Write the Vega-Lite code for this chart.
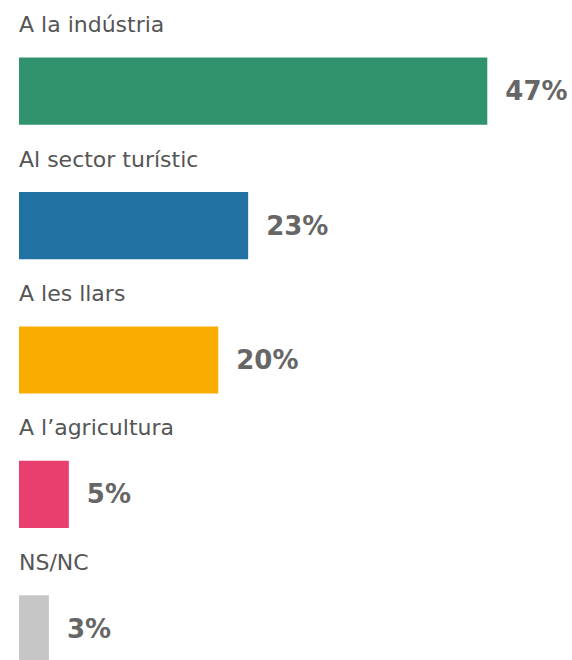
{
  "$schema": "https://vega.github.io/schema/vega-lite/v6.json",
  "width": 553,
  "height": 672,
  "autosize": "none",
  "padding": {"left": 19, "top": 24, "right": 0, "bottom": 0},
  "background": "white",
  "config": {"view": {"stroke": null}, "font": "Liberation Sans"},
  "data": {"values": [
    {"cat": "A la indústria", "pct": 47, "label": "47%", "color": "#31936E"},
    {"cat": "Al sector turístic", "pct": 23, "label": "23%", "color": "#2271A3"},
    {"cat": "A les llars", "pct": 20, "label": "20%", "color": "#F8AD00"},
    {"cat": "A l’agricultura", "pct": 5, "label": "5%", "color": "#E83F6F"},
    {"cat": "NS/NC", "pct": 3, "label": "3%", "color": "#C6C6C6"}
  ]},
  "encoding": {
    "y": {"field": "cat", "type": "nominal", "sort": null, "axis": null,
          "scale": {"paddingInner": 0.5, "paddingOuter": 0.25}}
  },
  "layer": [
    {
      "mark": {"type": "bar"},
      "encoding": {
        "x": {"field": "pct", "type": "quantitative", "axis": null, "scale": {"domain": [0, 55.5], "nice": false, "zero": true}},
        "color": {"field": "color", "type": "nominal", "scale": null}
      }
    },
    {
      "mark": {"type": "text", "align": "left", "baseline": "middle", "dx": 18, "dy": 1, "font": "DejaVu Sans", "fontSize": 26, "fontWeight": "bold", "color": "#666666"},
      "encoding": {
        "x": {"field": "pct", "type": "quantitative"},
        "text": {"field": "label"}
      }
    },
    {
      "mark": {"type": "text", "align": "left", "baseline": "middle", "dy": -66, "x": 0, "font": "DejaVu Sans", "fontSize": 22, "color": "#555555"},
      "encoding": {
        "text": {"field": "cat"}
      }
    }
  ]
}
